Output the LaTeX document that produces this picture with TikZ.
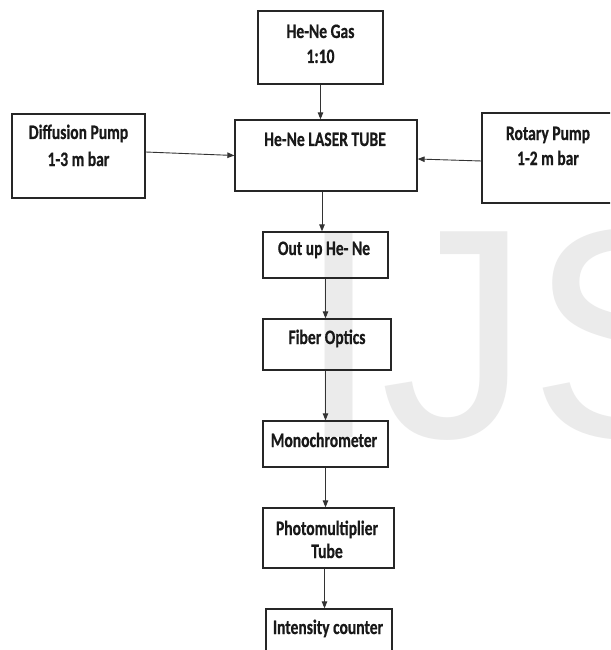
\documentclass[tikz,border=0pt]{standalone}
\usepackage{fontspec}
\newfontfamily\labfont{Carlito}[FakeStretch=0.76,FakeBold=0.6]
\newfontfamily\wmfont{Liberation Sans}
\usetikzlibrary{arrows.meta}
\begin{document}
\begin{tikzpicture}[x=1pt,y=-1pt,
  box/.style={draw=black!85,line width=1.3pt,rectangle,inner sep=0pt},
  lab/.style={anchor=base,inner sep=0pt,font=\labfont\bfseries\fontsize{20.5}{25}\selectfont,text=black!90},
  arr/.style={draw=black!80,line width=0.9pt,-{Triangle[length=7pt,width=5.5pt]}}]
\clip (0,0) rectangle (610,650);
\fill[white] (0,0) rectangle (610,650);
% watermark
\node[anchor=base west,inner sep=0pt,text=black!8,font=\wmfont\fontsize{299}{299}\selectfont] (wm) at (297,437) {IJS};
% boxes
\node[box,minimum width=125pt,minimum height=73pt] (gas) at (320.5,47.5) {};
\node[box,minimum width=182pt,minimum height=71pt] (laser) at (326,155.5) {};
\node[box,minimum width=133pt,minimum height=84pt] (diff) at (78.5,156) {};
\node[box,minimum width=133pt,minimum height=90pt] (rot) at (548.5,158) {};
\node[box,minimum width=125pt,minimum height=46pt] (outup) at (325.5,255) {};
\node[box,minimum width=128pt,minimum height=51pt] (fiber) at (327,344.5) {};
\node[box,minimum width=125pt,minimum height=46pt] (mono) at (325.5,444) {};
\node[box,minimum width=131pt,minimum height=60pt] (photo) at (328.5,538) {};
\node[box,minimum width=126pt,minimum height=51pt] (intens) at (329,634.5) {};
% texts
\node[lab] (gasA) at (320.5,38) {He-Ne Gas};
\node[lab] (gasB) at (320.5,63) {1:10};
\node[lab] (laserA) at (325,146) {He-Ne LASER TUBE};
\node[lab] (diffA) at (78.5,139) {Diffusion Pump};
\node[lab] (diffB) at (78.5,166) {1-3 m bar};
\node[lab] (rotA) at (548,140) {Rotary Pump};
\node[lab] (rotB) at (548,165) {1-2 m bar};
\node[lab] (outupA) at (324,255) {Out up He- Ne};
\node[lab] (fiberA) at (327,344) {Fiber Optics};
\node[lab] (monoA) at (324,447) {Monochrometer};
\node[lab] (photoA) at (327,535) {Photomultiplier};
\node[lab] (photoB) at (327,558) {Tube};
\node[lab] (intensA) at (328,634) {Intensity counter};
% connectors
\coordinate (l1) at ([xshift=-4pt]laser.south);
\coordinate (p1) at ([xshift=-4pt]photo.south);
\draw[arr] (gas.south) -- (gas.south |- laser.north);
\draw[arr] ([yshift=4pt]diff.east) -- (laser.west);
\draw[arr] ([yshift=-3pt]rot.west) -- ([yshift=-3.5pt]laser.east);
\draw[arr] (l1) -- (l1 |- outup.north);
\draw[arr] (outup.south) -- (outup.south |- fiber.north);
\draw[arr] (mono.north |- fiber.south) -- (mono.north);
\draw[arr] (mono.south) -- (mono.south |- photo.north);
\draw[arr] (p1) -- (p1 |- intens.north);
\end{tikzpicture}
\end{document}
